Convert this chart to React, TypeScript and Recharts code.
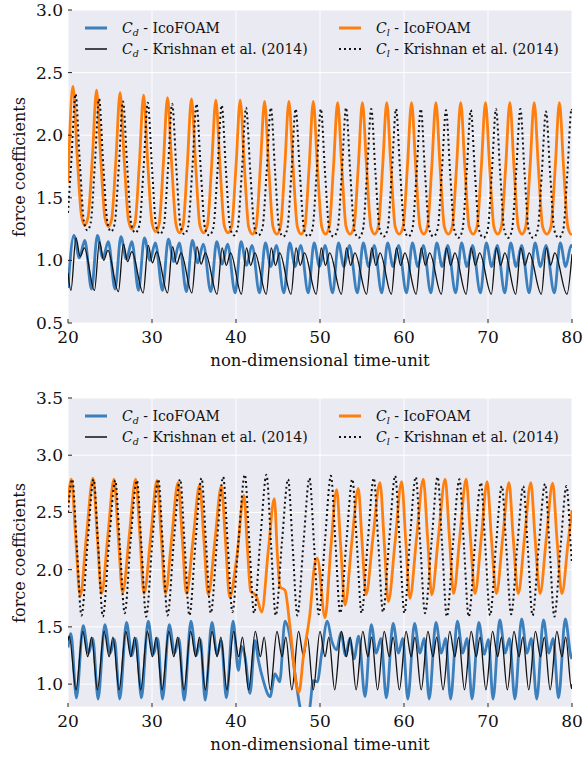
import React from "react";
import { LineChart, Line, XAxis, YAxis, CartesianGrid } from "recharts";

const timeTicks = [20, 30, 40, 50, 60, 70, 80];
const topTicks = [0.5, 1.0, 1.5, 2.0, 2.5, 3.0];
const bottomTicks = [1.0, 1.5, 2.0, 2.5, 3.0, 3.5];

// [time, value] pairs, upper panel
const topCdIcoFoam = [
  [20, 0.78], [20.7, 1.2], [21.35, 1.02], [22.0, 1.16],
  [22.8, 0.77], [23.5, 1.2], [24.15, 1.02], [24.8, 1.15],
  [25.6, 0.77], [26.3, 1.19], [26.95, 1.01], [27.6, 1.15],
  [28.4, 0.76], [29.1, 1.18], [29.75, 1.0], [30.4, 1.14],
  [31.25, 0.76], [31.95, 1.17], [32.6, 0.99], [33.25, 1.14],
  [34.1, 0.75], [34.8, 1.16], [35.45, 0.98], [36.1, 1.13],
  [37.0, 0.75], [37.7, 1.15], [38.35, 0.97], [39.0, 1.13],
  [39.9, 0.74], [40.6, 1.15], [41.25, 0.96], [41.9, 1.12],
  [42.8, 0.74], [43.5, 1.14], [44.15, 0.95], [44.8, 1.12],
  [45.7, 0.74], [46.4, 1.14], [47.05, 0.95], [47.7, 1.12],
  [48.6, 0.74], [49.3, 1.14], [49.95, 0.95], [50.6, 1.12],
  [51.5, 0.74], [52.2, 1.14], [52.85, 0.95], [53.5, 1.12],
  [54.45, 0.74], [55.15, 1.14], [55.8, 0.95], [56.45, 1.12],
  [57.35, 0.74], [58.05, 1.14], [58.7, 0.95], [59.35, 1.12],
  [60.3, 0.74], [61.0, 1.14], [61.65, 0.95], [62.3, 1.12],
  [63.2, 0.74], [63.9, 1.14], [64.55, 0.95], [65.2, 1.12],
  [66.15, 0.74], [66.85, 1.14], [67.5, 0.95], [68.15, 1.12],
  [69.1, 0.74], [69.8, 1.14], [70.45, 0.95], [71.1, 1.12],
  [72.0, 0.74], [72.7, 1.14], [73.35, 0.95], [74.0, 1.12],
  [74.9, 0.74], [75.6, 1.14], [76.25, 0.95], [76.9, 1.12],
  [77.9, 0.74], [78.6, 1.14], [79.25, 0.95], [79.9, 1.12], [80, 1.1],
];

const topCdKrishnan = [
  [20, 0.9], [20.35, 0.76],
  [20.95, 1.18], [21.45, 1.03], [21.95, 1.1], [23.15, 0.76],
  [23.75, 1.15], [24.25, 1.0], [24.75, 1.08], [26.0, 0.75],
  [26.6, 1.13], [27.1, 0.99], [27.6, 1.07], [28.95, 0.74],
  [29.55, 1.12], [30.05, 0.98], [30.55, 1.07], [31.85, 0.74],
  [32.45, 1.11], [32.95, 0.97], [33.45, 1.06], [34.75, 0.74],
  [35.35, 1.11], [35.85, 0.97], [36.35, 1.06], [37.75, 0.73],
  [38.35, 1.1], [38.85, 0.96], [39.35, 1.06], [40.65, 0.73],
  [41.25, 1.1], [41.75, 0.96], [42.25, 1.06], [43.6, 0.73],
  [44.2, 1.1], [44.7, 0.96], [45.2, 1.06], [46.55, 0.73],
  [47.15, 1.1], [47.65, 0.96], [48.15, 1.06], [49.55, 0.73],
  [50.15, 1.1], [50.65, 0.96], [51.15, 1.06], [52.55, 0.73],
  [53.15, 1.1], [53.65, 0.96], [54.15, 1.06], [55.55, 0.73],
  [56.15, 1.1], [56.65, 0.96], [57.15, 1.06], [58.5, 0.73],
  [59.1, 1.1], [59.6, 0.96], [60.1, 1.06], [61.45, 0.73],
  [62.05, 1.1], [62.55, 0.96], [63.05, 1.06], [64.45, 0.73],
  [65.05, 1.1], [65.55, 0.96], [66.05, 1.06], [67.4, 0.73],
  [68.0, 1.1], [68.5, 0.96], [69.0, 1.06], [70.4, 0.73],
  [71.0, 1.1], [71.5, 0.96], [72.0, 1.06], [73.3, 0.73],
  [73.9, 1.1], [74.4, 0.96], [74.9, 1.06], [76.35, 0.73],
  [76.95, 1.1], [77.45, 0.96], [77.95, 1.06], [79.4, 0.73], [80, 1.05],
];

const topClIcoFoam = [
  [20, 1.62],
  [20.6, 2.39], [21.1, 1.83], [21.6, 1.36], [22.0, 1.28], [22.4, 1.35], [22.9, 1.82],
  [23.4, 2.36], [23.9, 1.81], [24.4, 1.34], [24.8, 1.27], [25.2, 1.33], [25.7, 1.8],
  [26.2, 2.34], [26.7, 1.79], [27.2, 1.32], [27.6, 1.25], [28.0, 1.31], [28.5, 1.78],
  [29.0, 2.32], [29.5, 1.77], [30.0, 1.3], [30.42, 1.23], [30.85, 1.29], [31.35, 1.77],
  [31.85, 2.3], [32.35, 1.76], [32.85, 1.29], [33.27, 1.22], [33.7, 1.28], [34.2, 1.76],
  [34.7, 2.29], [35.2, 1.76], [35.7, 1.28], [36.15, 1.22], [36.6, 1.28], [37.1, 1.76],
  [37.6, 2.28], [38.1, 1.75], [38.6, 1.28], [39.05, 1.22], [39.5, 1.28], [40.0, 1.75],
  [40.5, 2.28], [41.0, 1.75], [41.5, 1.27], [41.95, 1.21], [42.4, 1.27], [42.9, 1.75],
  [43.4, 2.27], [43.9, 1.74], [44.4, 1.27], [44.85, 1.21], [45.3, 1.27], [45.8, 1.74],
  [46.3, 2.27], [46.8, 1.74], [47.3, 1.27], [47.75, 1.21], [48.2, 1.27], [48.7, 1.74],
  [49.2, 2.27], [49.7, 1.74], [50.2, 1.27], [50.65, 1.21], [51.1, 1.27], [51.6, 1.74],
  [52.1, 2.26], [52.6, 1.74], [53.1, 1.27], [53.58, 1.21], [54.05, 1.27], [54.55, 1.74],
  [55.05, 2.26], [55.55, 1.74], [56.05, 1.27], [56.5, 1.21], [56.95, 1.27], [57.45, 1.74],
  [57.95, 2.26], [58.45, 1.74], [58.95, 1.27], [59.42, 1.21], [59.9, 1.27], [60.4, 1.74],
  [60.9, 2.26], [61.4, 1.74], [61.9, 1.27], [62.35, 1.21], [62.8, 1.27], [63.3, 1.74],
  [63.8, 2.26], [64.3, 1.74], [64.8, 1.27], [65.28, 1.21], [65.75, 1.27], [66.25, 1.74],
  [66.75, 2.26], [67.25, 1.74], [67.75, 1.27], [68.22, 1.21], [68.7, 1.27], [69.2, 1.74],
  [69.7, 2.26], [70.2, 1.74], [70.7, 1.27], [71.15, 1.21], [71.6, 1.27], [72.1, 1.74],
  [72.6, 2.26], [73.1, 1.74], [73.6, 1.27], [74.05, 1.21], [74.5, 1.27], [75.0, 1.74],
  [75.5, 2.26], [76.0, 1.74], [76.5, 1.27], [77.0, 1.21], [77.5, 1.27], [78.0, 1.74],
  [78.5, 2.26], [79.0, 1.74], [79.5, 1.27], [79.9, 1.21], [80, 1.215],
];

const topClKrishnan = [
  [20, 1.38], [20.4, 1.8],
  [20.9, 2.33], [21.4, 1.79], [21.9, 1.31], [22.3, 1.24], [22.7, 1.3], [23.2, 1.77],
  [23.7, 2.29], [24.2, 1.76], [24.7, 1.3], [25.12, 1.23], [25.55, 1.29], [26.05, 1.75],
  [26.55, 2.27], [27.05, 1.75], [27.55, 1.28], [28.02, 1.22], [28.5, 1.28], [29.0, 1.74],
  [29.5, 2.26], [30.0, 1.74], [30.5, 1.27], [30.95, 1.21], [31.4, 1.27], [31.9, 1.73],
  [32.4, 2.25], [32.9, 1.73], [33.4, 1.27], [33.85, 1.21], [34.3, 1.27], [34.8, 1.73],
  [35.3, 2.25], [35.8, 1.73], [36.3, 1.26], [36.8, 1.2], [37.3, 1.26], [37.8, 1.72],
  [38.3, 2.24], [38.8, 1.72], [39.3, 1.26], [39.75, 1.2], [40.2, 1.26], [40.7, 1.71],
  [41.2, 2.22], [41.7, 1.71], [42.2, 1.26], [42.68, 1.2], [43.15, 1.26], [43.65, 1.71],
  [44.15, 2.22], [44.65, 1.71], [45.15, 1.25], [45.62, 1.19], [46.1, 1.25], [46.6, 1.7],
  [47.1, 2.21], [47.6, 1.7], [48.1, 1.25], [48.6, 1.19], [49.1, 1.25], [49.6, 1.7],
  [50.1, 2.21], [50.6, 1.7], [51.1, 1.25], [51.6, 1.19], [52.1, 1.25], [52.6, 1.7],
  [53.1, 2.22], [53.6, 1.7], [54.1, 1.24], [54.6, 1.18], [55.1, 1.24], [55.6, 1.7],
  [56.1, 2.21], [56.6, 1.7], [57.1, 1.25], [57.58, 1.19], [58.05, 1.25], [58.55, 1.7],
  [59.05, 2.21], [59.55, 1.7], [60.05, 1.25], [60.52, 1.19], [61.0, 1.25], [61.5, 1.7],
  [62.0, 2.21], [62.5, 1.7], [63.0, 1.25], [63.5, 1.19], [64.0, 1.25], [64.5, 1.7],
  [65.0, 2.2], [65.5, 1.69], [66.0, 1.24], [66.48, 1.18], [66.95, 1.24], [67.45, 1.69],
  [67.95, 2.2], [68.45, 1.69], [68.95, 1.24], [69.45, 1.18], [69.95, 1.24], [70.45, 1.69],
  [70.95, 2.21], [71.45, 1.7], [71.95, 1.24], [72.4, 1.18], [72.85, 1.24], [73.35, 1.7],
  [73.85, 2.21], [74.35, 1.7], [74.85, 1.24], [75.38, 1.18], [75.9, 1.24], [76.4, 1.69],
  [76.9, 2.19], [77.4, 1.69], [77.9, 1.24], [78.42, 1.18], [78.95, 1.24], [79.45, 1.7],
  [79.95, 2.21], [80, 2.2],
];

// lower panel
const bottomCdIcoFoam = [
  [20, 1.32], [20.35, 1.44],
  [21.0, 0.88], [21.8, 1.51], [22.45, 1.27], [22.95, 1.4],
  [23.58, 0.87], [24.38, 1.52], [25.03, 1.27], [25.53, 1.39],
  [26.16, 0.87], [26.96, 1.54], [27.6, 1.25], [28.1, 1.4],
  [28.74, 0.88], [29.54, 1.55], [30.18, 1.26], [30.68, 1.4],
  [31.25, 0.87], [32.05, 1.52], [32.7, 1.27], [33.2, 1.4],
  [33.83, 0.86], [34.63, 1.55], [35.27, 1.25], [35.77, 1.39],
  [36.33, 0.86], [37.13, 1.54], [37.75, 1.26], [38.25, 1.38],
  [38.85, 0.88], [39.65, 1.55], [40.28, 1.12], [40.67, 1.33], [41.07, 1.24],
  [41.67, 0.92], [42.26, 1.38], [42.66, 1.21], [43.25, 1.03], [44.05, 0.89],
  [44.64, 1.09], [45.2, 1.02], [45.83, 1.55], [46.43, 1.41], [47.02, 1.09],
  [47.62, 0.8], [48.2, 0.66], [48.8, 0.8], [49.2, 1.03], [49.68, 1.02],
  [50.2, 1.27], [50.87, 1.55], [51.39, 1.38], [51.98, 1.3], [52.5, 1.45],
  [53.05, 1.25], [53.55, 1.4], [54.05, 1.22], [54.6, 1.42],
  [55.36, 0.89], [56.1, 1.52], [56.7, 1.27], [57.25, 1.4],
  [57.9, 0.88], [58.7, 1.53], [59.35, 1.27], [59.85, 1.4],
  [60.45, 0.87], [61.25, 1.53], [61.9, 1.27], [62.4, 1.4],
  [63.0, 0.87], [63.8, 1.54], [64.45, 1.27], [64.95, 1.4],
  [65.55, 0.87], [66.35, 1.55], [67.0, 1.27], [67.5, 1.4],
  [68.1, 0.87], [68.9, 1.54], [69.55, 1.26], [70.05, 1.39],
  [70.6, 0.87], [71.4, 1.56], [72.05, 1.27], [72.55, 1.4],
  [73.2, 0.87], [74.0, 1.57], [74.65, 1.27], [75.15, 1.4],
  [75.8, 0.87], [76.6, 1.56], [77.25, 1.27], [77.75, 1.4],
  [78.4, 0.88], [79.2, 1.57], [79.85, 1.25], [80, 1.22],
];

const bottomCdKrishnan = [
  [20, 1.38], [20.15, 1.42],
  [20.95, 0.95], [21.75, 1.46], [22.35, 1.24], [22.8, 1.41],
  [23.5, 0.95], [24.3, 1.46], [24.9, 1.24], [25.35, 1.41],
  [26.08, 0.95], [26.88, 1.46], [27.48, 1.24], [27.93, 1.41],
  [28.65, 0.95], [29.45, 1.46], [30.05, 1.24], [30.5, 1.41],
  [31.2, 0.95], [32.0, 1.46], [32.6, 1.24], [33.05, 1.41],
  [33.8, 0.95], [34.6, 1.46], [35.2, 1.24], [35.65, 1.41],
  [36.35, 0.95], [37.15, 1.46], [37.75, 1.24], [38.2, 1.41],
  [38.92, 0.95], [39.72, 1.46], [40.32, 1.24], [40.77, 1.41],
  [41.5, 0.95], [42.3, 1.46], [42.9, 1.24], [43.35, 1.41],
  [44.08, 0.95], [44.88, 1.46], [45.48, 1.24], [45.93, 1.41],
  [46.65, 0.95], [47.45, 1.46], [48.05, 1.24], [48.5, 1.41],
  [49.2, 0.95], [50.0, 1.46], [50.6, 1.24], [51.05, 1.41],
  [51.75, 0.95], [52.55, 1.46], [53.15, 1.24], [53.6, 1.41],
  [54.3, 0.95], [55.1, 1.46], [55.7, 1.24], [56.15, 1.41],
  [56.85, 0.95], [57.65, 1.46], [58.25, 1.24], [58.7, 1.41],
  [59.45, 0.95], [60.25, 1.46], [60.85, 1.24], [61.3, 1.41],
  [62.05, 0.95], [62.85, 1.46], [63.45, 1.24], [63.9, 1.41],
  [64.65, 0.95], [65.45, 1.46], [66.05, 1.24], [66.5, 1.41],
  [67.2, 0.95], [68.0, 1.46], [68.6, 1.24], [69.05, 1.41],
  [69.75, 0.95], [70.55, 1.46], [71.15, 1.24], [71.6, 1.41],
  [72.3, 0.95], [73.1, 1.46], [73.7, 1.24], [74.15, 1.41],
  [74.85, 0.95], [75.65, 1.46], [76.25, 1.24], [76.7, 1.41],
  [77.4, 0.95], [78.2, 1.46], [78.8, 1.24], [79.25, 1.41],
  [79.95, 0.96], [80, 1.0],
];

const bottomClIcoFoam = [
  [20, 2.58], [20.4, 2.79], [20.9, 2.3], [21.45, 1.77], [22.2, 2.3],
  [22.98, 2.8], [23.48, 2.3], [24.0, 1.79], [24.75, 2.3],
  [25.48, 2.79], [25.98, 2.3], [26.5, 1.8], [27.3, 2.3],
  [28.06, 2.79], [28.56, 2.3], [29.05, 1.79], [29.85, 2.29],
  [30.6, 2.78], [31.1, 2.29], [31.6, 1.79], [32.35, 2.28],
  [33.1, 2.76], [33.6, 2.28], [34.1, 1.79], [34.9, 2.27],
  [35.67, 2.74], [36.17, 2.27], [36.7, 1.78], [37.5, 2.26],
  [38.25, 2.73], [38.75, 2.25], [39.25, 1.76], [40.08, 2.1],
  [40.95, 2.65], [41.35, 2.2], [41.75, 1.81], [42.14, 1.79], [42.46, 1.76],
  [43.06, 1.63], [43.85, 2.17], [44.56, 2.62], [44.95, 2.1], [45.24, 1.85],
  [45.83, 1.82], [46.43, 1.5], [47.22, 0.98], [47.5, 0.93], [48.02, 1.24],
  [48.81, 1.62], [49.4, 2.06], [49.68, 2.1], [50.6, 1.58], [51.3, 2.2],
  [51.98, 2.7], [52.45, 2.22], [52.98, 1.69], [53.8, 2.25],
  [54.56, 2.71], [55.0, 2.25], [55.48, 1.78], [56.3, 2.28],
  [57.14, 2.76], [57.64, 2.25], [58.13, 1.72], [58.95, 2.25],
  [59.72, 2.77], [60.2, 2.26], [60.7, 1.75], [61.5, 2.28],
  [62.3, 2.79], [62.8, 2.29], [63.3, 1.78], [64.1, 2.29],
  [64.9, 2.79], [65.4, 2.29], [65.9, 1.79], [66.65, 2.29],
  [67.4, 2.79], [67.9, 2.29], [68.45, 1.79], [69.2, 2.28],
  [69.9, 2.77], [70.4, 2.28], [71.0, 1.79], [71.75, 2.28],
  [72.5, 2.76], [73.0, 2.28], [73.6, 1.79], [74.35, 2.28],
  [75.1, 2.76], [75.6, 2.28], [76.2, 1.79], [76.95, 2.28],
  [77.7, 2.755], [78.2, 2.28], [78.8, 1.79], [79.55, 2.25], [80, 2.52],
];

const bottomClKrishnan = [
  [20, 2.5], [20.5, 2.79], [21.05, 2.2], [21.6, 1.6], [22.35, 2.25],
  [23.05, 2.79], [23.6, 2.2], [24.15, 1.59], [24.9, 2.25],
  [25.63, 2.78], [26.18, 2.2], [26.75, 1.62], [27.45, 2.25],
  [28.2, 2.78], [28.75, 2.2], [29.3, 1.59], [30.05, 2.25],
  [30.75, 2.79], [31.3, 2.2], [31.85, 1.6], [32.6, 2.25],
  [33.35, 2.79], [33.9, 2.2], [34.45, 1.6], [35.2, 2.26],
  [35.9, 2.8], [36.45, 2.21], [37.0, 1.62], [37.75, 2.26],
  [38.47, 2.81], [39.02, 2.22], [39.57, 1.63], [40.32, 2.27],
  [41.05, 2.83], [41.6, 2.22], [42.15, 1.62], [42.9, 2.27],
  [43.63, 2.83], [44.18, 2.21], [44.73, 1.6], [45.48, 2.25],
  [46.2, 2.79], [46.75, 2.2], [47.3, 1.6], [48.05, 2.25],
  [48.75, 2.8], [49.3, 2.21], [49.85, 1.61], [50.6, 2.26],
  [51.3, 2.82], [51.85, 2.22], [52.4, 1.62], [53.15, 2.25],
  [53.85, 2.79], [54.4, 2.21], [54.95, 1.62], [55.7, 2.26],
  [56.4, 2.8], [56.95, 2.22], [57.5, 1.63], [58.25, 2.27],
  [58.95, 2.82], [59.5, 2.22], [60.05, 1.62], [60.7, 2.26],
  [61.4, 2.81], [61.95, 2.21], [62.5, 1.62], [63.3, 2.26],
  [64.0, 2.81], [64.55, 2.2], [65.1, 1.59], [65.85, 2.24],
  [66.6, 2.79], [67.15, 2.19], [67.7, 1.59], [68.45, 2.22],
  [69.15, 2.76], [69.7, 2.18], [70.25, 1.6], [70.95, 2.21],
  [71.65, 2.73], [72.2, 2.17], [72.75, 1.61], [73.5, 2.22],
  [74.2, 2.73], [74.75, 2.17], [75.3, 1.6], [76.05, 2.22],
  [76.8, 2.75], [77.35, 2.17], [77.9, 1.59], [78.65, 2.21],
  [79.35, 2.73], [79.9, 2.15], [80, 2.05],
];

const BLUE = "#3b7fbd";
const ORANGE = "#ff7f0e";
const BLACK = "#111111";
const BG = "#eaeaf2";
const SERIF = "'DejaVu Serif', serif";
const DOTS = "2 3";

const toRows = (pts: number[][]) => pts.map(([t, v]) => ({ t, v }));

function Sub({ s }: { s: string }) {
  return (
    <span>
      <span style={{ fontStyle: "italic" }}>C</span>
      <span style={{ fontStyle: "italic", fontSize: "0.68em", position: "relative", top: "0.3em" }}>{s}</span>
    </span>
  );
}

function LegendRow(props: any) {
  const { x, y, kind, label } = props;
  return (
    <>
      <svg style={{ position: "absolute", left: x, top: y - 3, overflow: "visible" }} width={22} height={6}>
        {kind === "blue" && <line x1={0} x2={22} y1={3} y2={3} stroke={BLUE} strokeWidth={3} />}
        {kind === "orange" && <line x1={0} x2={22} y1={3} y2={3} stroke={ORANGE} strokeWidth={3} />}
        {kind === "black" && <line x1={0} x2={22} y1={3} y2={3} stroke={BLACK} strokeWidth={1.5} />}
        {kind === "dot" && <line x1={0} x2={22} y1={3} y2={3} stroke={BLACK} strokeWidth={2} strokeDasharray={DOTS} />}
      </svg>
      <div style={{ position: "absolute", left: x + 37, top: y - 10, height: 20, lineHeight: "20px", fontSize: 14, fontFamily: SERIF, color: "#111", whiteSpace: "nowrap" }}>
        {label}
      </div>
    </>
  );
}

function Panel(props: any) {
  const { cdIco, cdKr, clIco, clKr, domain, ticks, top, height, marginTop, xAxisHeight } = props;
  const plotTop = marginTop + 1;
  const plotBottom = height - xAxisHeight;
  const r1 = plotTop + 18;
  const r2 = r1 + 21;
  const tickStyle = { fill: "#111", fontSize: 17, fontFamily: SERIF };
  return (
    <div style={{ position: "absolute", left: 0, top, width: 585, height }}>
      <LineChart width={585} height={height} margin={{ top: marginTop, right: 12, bottom: 0, left: 0 }}>
        <CartesianGrid fill={BG} fillOpacity={1} stroke="#ffffff" strokeWidth={1} />
        <XAxis dataKey="t" type="number" domain={[20, 80]} ticks={timeTicks} allowDataOverflow
          height={xAxisHeight} axisLine={false} tickSize={-4} tickMargin={12}
          tickLine={{ stroke: "#222" }} tick={tickStyle} />
        <XAxis xAxisId="top" orientation="top" dataKey="t" type="number" domain={[20, 80]} ticks={timeTicks}
          allowDataOverflow height={1} axisLine={false} tickSize={-4} tickLine={{ stroke: "#222" }} tick={false} />
        <YAxis type="number" domain={domain} ticks={ticks} allowDataOverflow width={68} axisLine={false}
          tickSize={-4} tickMargin={9} tickLine={{ stroke: "#222" }} tick={tickStyle}
          tickFormatter={(v: number) => v.toFixed(1)} />
        <YAxis yAxisId="right" orientation="right" type="number" domain={domain} ticks={ticks} allowDataOverflow
          width={1} axisLine={false} tickSize={-4} tickLine={{ stroke: "#222" }} tick={false} />
        <Line data={toRows(cdIco)} dataKey="v" type="monotone" stroke={BLUE} strokeWidth={2.8} dot={false} isAnimationActive={false} />
        <Line data={toRows(cdKr)} dataKey="v" type="monotone" stroke={BLACK} strokeWidth={1.3} dot={false} isAnimationActive={false} />
        <Line data={toRows(clIco)} dataKey="v" type="monotone" stroke={ORANGE} strokeWidth={2.8} dot={false} isAnimationActive={false} />
        <Line data={toRows(clKr)} dataKey="v" type="monotone" stroke={BLACK} strokeWidth={2} strokeDasharray={DOTS} dot={false} isAnimationActive={false} />
      </LineChart>
      <LegendRow x={85} y={r1} kind="blue" label={<><Sub s="d" /> - IcoFOAM</>} />
      <LegendRow x={85} y={r2} kind="black" label={<><Sub s="d" /> - Krishnan et al. (2014)</>} />
      <LegendRow x={339} y={r1} kind="orange" label={<><Sub s="l" /> - IcoFOAM</>} />
      <LegendRow x={339} y={r2} kind="dot" label={<><Sub s="l" /> - Krishnan et al. (2014)</>} />
      <div style={{ position: "absolute", left: 68, width: 504, top: plotBottom + 28, height: 20, lineHeight: "20px", textAlign: "center", fontSize: 16.5, fontFamily: SERIF, color: "#111" }}>
        non-dimensional time-unit
      </div>
      <div style={{ position: "absolute", left: 20 - 100, width: 200, top: (plotTop + plotBottom) / 2 - 10, height: 20, lineHeight: "20px", textAlign: "center", fontSize: 16, fontFamily: SERIF, color: "#111", transform: "rotate(-90deg)" }}>
        force coefficients
      </div>
    </div>
  );
}

export default function App() {
  return (
    <div style={{ position: "absolute", left: 0, top: 0, width: 585, height: 761, background: "#fff" }}>
      <Panel cdIco={topCdIcoFoam} cdKr={topCdKrishnan} clIco={topClIcoFoam} clKr={topClKrishnan}
        domain={[0.5, 3.0]} ticks={topTicks} top={0} height={385} marginTop={9} xAxisHeight={62} />
      <Panel cdIco={bottomCdIcoFoam} cdKr={bottomCdKrishnan} clIco={bottomClIcoFoam} clKr={bottomClKrishnan}
        domain={[0.8, 3.5]} ticks={bottomTicks} top={385} height={376} marginTop={12} xAxisHeight={54} />
    </div>
  );
}
